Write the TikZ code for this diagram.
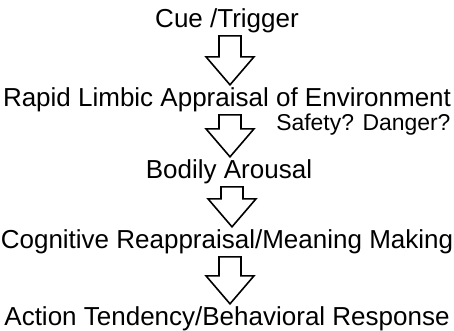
\documentclass[tikz,border=0pt]{standalone}
\usepackage{fontspec}
\setmainfont{Liberation Sans}
\usetikzlibrary{calc}
\tikzset{every picture/.style={line width=0.75pt}}
\tikzset{
stage/.style={anchor=base, inner sep=0pt, text height=14pt, text depth=4pt, font=\fontsize{19.5}{22}\selectfont},
note/.style={anchor=base east, inner sep=0pt, font=\fontsize{17.2}{20}\selectfont},
blockarrow/.style={line width=1.2pt, line join=miter}}
% hollow block arrow from the bottom of #1 to the top of #2
\newcommand{\flowarrow}[2]{%
\draw [blockarrow] let \p1=(#1.south), \p2=(#2.north) in
  (\x1-6pt,\y1+2.25pt) -- (\x1+10.5pt,\y1+2.25pt) -- (\x1+10.5pt,\y2-22.5pt)
  -- (\x1+20.25pt,\y2-22.5pt) -- (\x1+2.25pt,\y2-1.5pt) -- (\x1-15.75pt,\y2-22.5pt)
  -- (\x1-6pt,\y2-22.5pt) -- cycle ;}

\begin{document}
\begin{tikzpicture}[x=0.75pt,y=0.75pt,yscale=-1,xscale=1]
\useasboundingbox (0,0) rectangle (454,330);

% Text Node
\draw (227,27) node (cue) [stage] {Cue /Trigger};
% Text Node
\draw (227,106) node (limbic) [stage] {Rapid Limbic Appraisal of Environment};
% Text Node
\draw (451,130) node (safety) [note] {Safety? Danger?};
% Text Node
\draw (229,178) node (arousal) [stage] {Bodily Arousal};
% Text Node
\draw (227,248) node (reappraisal) [stage] {Cognitive Reappraisal/Meaning Making};
% Text Node
\draw (227,325) node (response) [stage] {Action Tendency/Behavioral Response};

%Shape: Block Arrows
\flowarrow{cue}{limbic}
\flowarrow{limbic}{arousal}
\flowarrow{arousal}{reappraisal}
\flowarrow{reappraisal}{response}

\end{tikzpicture}
\end{document}
